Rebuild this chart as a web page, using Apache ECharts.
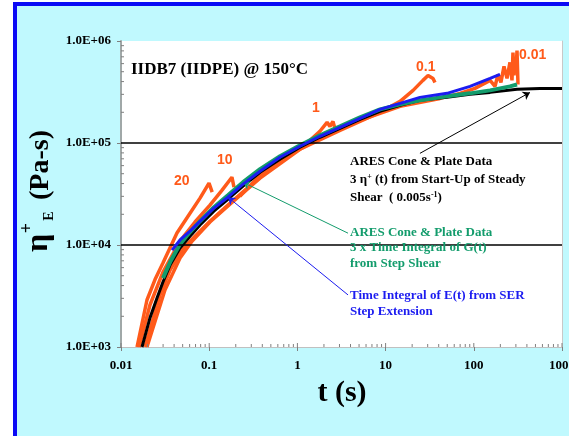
<!DOCTYPE html>
<html><head><meta charset="utf-8">
<script src="https://cdn.jsdelivr.net/npm/echarts@6/dist/echarts.min.js"></script>
<style>
html,body{margin:0;padding:0;background:#fff;width:569px;height:436px;overflow:hidden;}
#frame{position:absolute;left:13px;top:2px;width:600px;height:500px;background:#c0f9fe;border-left:4px solid #0a0af5;border-top:4px solid #0a0af5;}
#chart{position:absolute;left:0;top:0;width:569px;height:436px;}
</style></head><body>
<div id="frame"></div><div id="chart"></div>
<script>
// ---- tick labels ----
const xTickLabels = ['0.01', '0.1', '1', '10', '100', '1000'];
const yTickLabels = ['1.0E+03', '1.0E+04', '1.0E+05', '1.0E+06'];
const gridLineValues = [1e4, 1e5];

// ---- data: [t (s), eta_E+ (Pa-s)] ----
const rate20 = [[0.0152,1000],[0.0197,2890],[0.0243,4580],[0.0299,6650],[0.0431,13100],[0.0606,20500],[0.0787,28800],[0.0995,40400],[0.108,33000]];
const rate10 = [[0.016,1000],[0.0213,2580],[0.0299,5430],[0.0467,10900],[0.069,16800],[0.102,24600],[0.140,34500],[0.181,46200],[0.191,36900]];
const rate1 = [[0.0187,1000],[0.0277,3240],[0.036,5680],[0.0492,8920],[0.069,12200],[0.102,17100],[0.163,24600],[0.255,34500],[0.377,46200],[0.635,64800],[1.07,88800],[1.39,106200],[1.80,130300],[2.17,159500],[2.34,145600],[2.53,163000],[2.74,127300]];
const rate01 = [[0.0197,1000],[0.0315,3620],[0.0467,7450],[0.0638,10900],[0.102,16800],[0.172,25100],[0.377,45200],[1.07,86800],[3.04,133100],[8.64,199600],[14.6,255800],[20.5,328100],[26.5,411100],[30.3,459200],[34.5,429500],[36.3,392600]];
const rate001 = [[0.223,30100],[0.377,48300],[0.635,67800],[1.80,111200],[5.13,166800],[14.6,228700],[41.4,273600],[69.8,306700],[103,343000],[153,411100],[174,358900],[188,469900],[203,392600],[220,563600],[238,429500],[257,616600],[271,411100],[278,771000],[286,459200],[293,674500],[301,514000],[309,807500],[317,375000]];
const shearStartup = [[0.0173,1000],[0.0213,1930],[0.0256,3020],[0.0299,4340],[0.036,6360],[0.0467,9330],[0.0606,12200],[0.0787,15700],[0.113,21500],[0.163,28100],[0.242,37800],[0.377,51700],[0.635,69400],[1.07,90800],[1.80,113800],[3.04,139300],[5.13,170800],[8.64,204300],[14.6,234000],[24.5,261800],[49.7,280100],[90.6,299700],[153,313500],[309,335700],[563,343000],[1000,343000]];
const stepShear = [[0.0299,4740],[0.036,6800],[0.0467,10200],[0.0606,13400],[0.0787,17100],[0.113,23500],[0.163,30800],[0.242,41300],[0.377,55400],[0.635,74200],[1.07,94900],[1.80,118900],[3.04,145600],[5.13,178400],[8.64,213800],[14.6,239400],[24.5,261800],[49.7,286600],[90.6,306700],[153,328100],[257,358900],[309,375000]];
const serStep = [[0.0379,8920],[0.0467,11200],[0.0606,13700],[0.0787,17100],[0.113,23000],[0.163,29400],[0.242,39500],[0.377,52900],[0.635,72500],[1.07,92900],[1.80,116400],[3.04,142500],[5.13,174600],[8.64,213800],[14.6,244600],[24.5,280100],[49.7,306700],[90.6,358900],[153,429500],[198,469900]];

// leader lines (data coordinates): [start, end]
const leaderShear = [[24.5,79200],[433,313000]];
const leaderStepShear = [[3.75,13060],[0.2416,41200]];
const leaderSER = [[3.75,3240],[0.163,29450]];

// minor tick positions (log axes)
const xTickMarks = [];
for (let k = -2; k <= 2; k++) { xTickMarks.push([Math.pow(10,k), 1000, 4]); for (let m = 2; m <= 9; m++) xTickMarks.push([m*Math.pow(10,k), 1000, 3]); }
xTickMarks.push([1000, 1000, 4]);
const yTickMarks = [];
for (let k = 3; k <= 5; k++) { for (let m = 2; m <= 9; m++) yTickMarks.push([0.01, m*Math.pow(10,k), 3]); }

const ORANGE = '#ff5a1a', GREEN = '#139c6c', BLUE = '#1c1cf0';
const SERIF = "'Liberation Serif','Times New Roman',serif";
const SANS = "'Liberation Sans',Arial,sans-serif";

const chart = echarts.init(document.getElementById('chart'), null, {renderer:'canvas'});

function lineSeries(name, data, color, width, z) {
  return { name, type:'line', data, symbol:'none', z, lineStyle:{color, width}, silent:true, animation:false };
}
function leader(series, pts, color) {
  series.markLine = { silent:true, symbol:['none','arrow'], symbolSize:7, animation:false,
    label:{show:false}, lineStyle:{color, width:1, type:'solid'},
    data:[[{coord:pts[0]},{coord:pts[1]}]] };
  return series;
}

const sBlack = leader(lineSeries('shear', shearStartup, '#000', 3, 3), leaderShear, '#000');
const sGreen = leader(lineSeries('stepShear', stepShear, GREEN, 4, 4), leaderStepShear, GREEN);
const sBlue = leader(lineSeries('ser', serStep, BLUE, 3, 5), leaderSER, BLUE);
const s20 = lineSeries('20', rate20, ORANGE, 3.5, 2);
s20.markLine = { silent:true, symbol:'none', animation:false, label:{show:false},
  lineStyle:{color:'#000', width:1.5, type:'solid'}, data: gridLineValues.map(v => ({yAxis:v})) };

const tickSeries = (data, horiz) => ({
  type:'custom', data, silent:true, clip:false, z:10, animation:false,
  renderItem: (params, api) => {
    const p = api.coord([api.value(0), api.value(1)]);
    const L = api.value(2);
    return { type:'line', shape: horiz ? {x1:p[0], y1:p[1], x2:p[0]+L, y2:p[1]} : {x1:p[0], y1:p[1], x2:p[0], y2:p[1]-L},
      style:{stroke:'#808080', lineWidth:1} };
  }
});

const txt = (text, x, y, font, fill, extra) => Object.assign({ type:'text', x, y, silent:true, z:100,
  style: Object.assign({ text, font, fill, align:'left', verticalAlign:'middle' }, extra || {}) });

const option = {
  animation:false,
  backgroundColor:'transparent',
  grid:{ left:121, top:41, width:441, height:306, show:true, backgroundColor:'#fff', borderWidth:0,
    containLabel:false, outerBoundsMode:'none' },
  xAxis:{ type:'log', logBase:10, min:0.01, max:1000, splitNumber:5,
    axisLine:{show:true, lineStyle:{color:'#c0c0c0', width:1}},
    axisTick:{show:true, length:4, lineStyle:{color:'#808080'}},
    minorTick:{show:false}, splitLine:{show:false},
    axisLabel:{ margin:12, color:'#000', fontFamily:SERIF, fontWeight:'bold', fontSize:13, hideOverlap:false,
      formatter: v => xTickLabels[Math.round(Math.log10(v)) + 2] } },
  yAxis:[{ type:'log', logBase:10, min:1000, max:1e6,
    axisLine:{show:true, lineStyle:{color:'#a0a8a8', width:2}},
    axisTick:{show:true, length:4, lineStyle:{color:'#808080'}},
    splitLine:{show:false},
    axisLabel:{ margin:10, color:'#000', fontFamily:SERIF, fontWeight:'bold', fontSize:13,
      formatter: v => yTickLabels[Math.round(Math.log10(v)) - 3] } },
   { type:'log', logBase:10, min:1000, max:1e6, position:'right',
    axisLine:{show:true, lineStyle:{color:'#c8c8c8', width:1}}, axisTick:{show:false}, axisLabel:{show:false}, splitLine:{show:false} }],
  series:[
    s20,
    lineSeries('10', rate10, ORANGE, 3.5, 2),
    lineSeries('1', rate1, ORANGE, 3.5, 2),
    lineSeries('0.1', rate01, ORANGE, 3.5, 2),
    lineSeries('0.01', rate001, ORANGE, 3.5, 2),
    sBlack, sGreen, sBlue,
    tickSeries(xTickMarks, false),
    tickSeries(yTickMarks, true)
  ],
  graphic:[
    txt('IIDB7 (IIDPE) @ 150°C', 131, 70, 'bold 17px ' + SERIF, '#000'),
    txt('20', 174, 181, 'bold 14px ' + SANS, ORANGE),
    txt('10', 217, 160, 'bold 14px ' + SANS, ORANGE),
    txt('1', 312, 108, 'bold 14px ' + SANS, ORANGE),
    txt('0.1', 416, 67, 'bold 14px ' + SANS, ORANGE),
    txt('0.01', 519, 55, 'bold 14px ' + SANS, ORANGE),
    txt('ARES Cone & Plate Data', 350, 162, 'bold 13px ' + SERIF, '#000'),
    txt('3 η{sup|+} (t) from Start-Up of Steady', 350, 180, 'bold 13px ' + SERIF, '#000',
      {rich:{sup:{fontSize:8, fontWeight:'bold', fontFamily:'Liberation Serif', verticalAlign:'top', padding:[0,0,6,0]}}}),
    txt('Shear  ( 0.005s{sup|-1})', 350, 198, 'bold 13px ' + SERIF, '#000',
      {rich:{sup:{fontSize:8, fontWeight:'bold', fontFamily:'Liberation Serif', verticalAlign:'top', padding:[0,0,6,0]}}}),
    txt('ARES Cone & Plate Data', 350, 233, 'bold 13px ' + SERIF, GREEN),
    txt('3 x Time Integral of G(t)', 350, 248, 'bold 13px ' + SERIF, GREEN),
    txt('from Step Shear', 350, 264, 'bold 13px ' + SERIF, GREEN),
    txt('Time Integral of E(t) from SER', 350, 296, 'bold 13px ' + SERIF, BLUE),
    txt('Step Extension', 350, 312, 'bold 13px ' + SERIF, BLUE),
    txt('t (s)', 342, 393, 'bold 30px ' + SERIF, '#000', {align:'center'}),
    // y-axis title pieces, rotated
    Object.assign(txt('η', 39, 243, 'bold 32px ' + SERIF, '#000', {align:'center'}), {rotation:Math.PI/2}),
    Object.assign(txt('+', 27, 228, 'bold 18px ' + SERIF, '#000', {align:'center'}), {rotation:Math.PI/2}),
    Object.assign(txt('E', 49, 216, 'bold 14px ' + SERIF, '#000', {align:'center'}), {rotation:Math.PI/2}),
    Object.assign(txt('(Pa-s)', 41, 165, 'bold 28px ' + SERIF, '#000', {align:'center'}), {rotation:Math.PI/2})
  ]
};
chart.setOption(option);
</script>
</body></html>
